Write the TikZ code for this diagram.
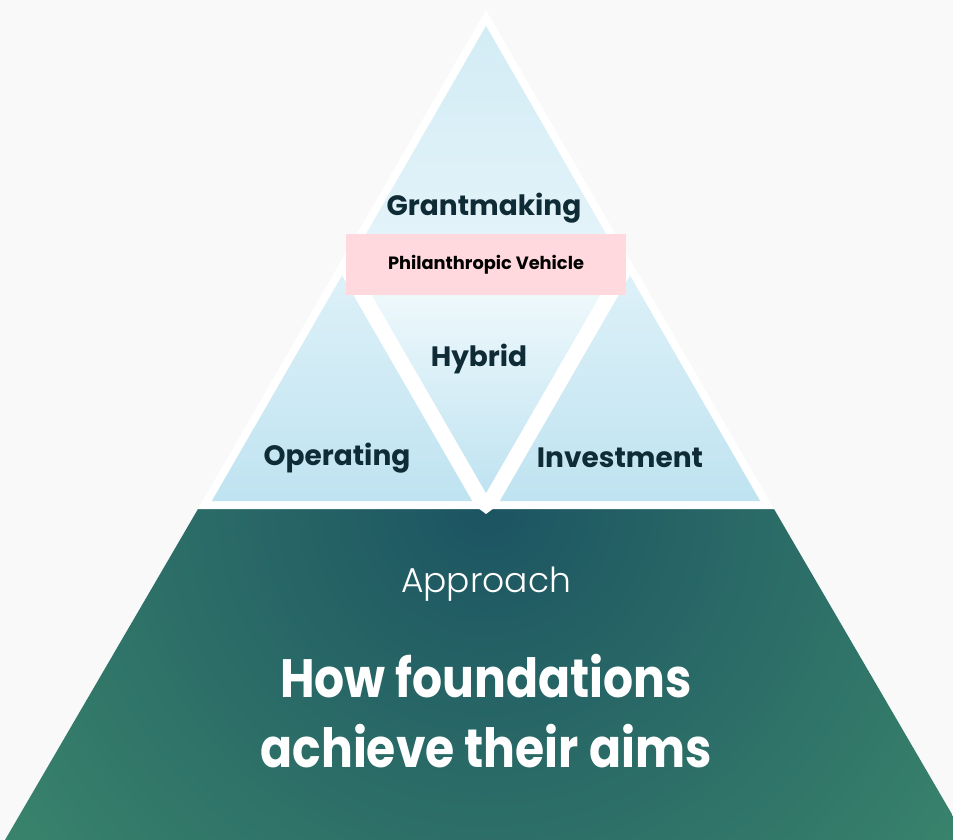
\documentclass[tikz,border=0pt]{standalone}
\usepackage{fontspec}
\setmainfont{Poppins}
\newfontfamily\lightfont{Poppins Light}
\newfontfamily\aimfont{Poppins}[FakeStretch=0.875]
\usetikzlibrary{calc}
\definecolor{pageGrey}{HTML}{F9F9F9}
\definecolor{labelNavy}{HTML}{0F2B36}
\definecolor{vehiclePink}{HTML}{FFD9DD}
\definecolor{tealDark}{HTML}{1C5462}
\definecolor{tealGreen}{HTML}{42926F}
\definecolor{skyDeep}{HTML}{BFE3F1}
\definecolor{skyMid}{HTML}{D3ECF5}
\definecolor{skyPale}{HTML}{F4FBFD}
\tikzset{
    tierText/.style={font=\bfseries\fontsize{28}{30}\selectfont, text=labelNavy},
    vehicleBox/.style={fill=vehiclePink, minimum width=280pt, minimum height=61pt, inner sep=0pt,
        font=\bfseries\fontsize{17.8}{20}\selectfont, text=black},
    approachText/.style={font=\lightfont\fontsize{34.5}{36}\selectfont, text=white},
    aimText/.style={font=\aimfont\bfseries\fontsize{54}{70}\selectfont, text=white, align=center},
    topTri/.style={top color=skyMid, bottom color=skyPale!50!skyMid},
    sideTri/.style={top color=skyMid!70!skyPale, bottom color=skyDeep},
    hybridTri/.style={top color=skyPale, bottom color=skyDeep}
}
\def\shrink{0.904}

\begin{document}
\begin{tikzpicture}[x=1pt,y=-1pt]
    % Fix the canvas to the reference size
    \clip (0,0) rectangle (953,840);
    \fill[pageGrey] (0,0) rectangle (953,840);

    % Corners of the big triangle and the midpoints of its sides
    \coordinate (apex) at (486,10);
    \coordinate (baseL) at (198,509);
    \coordinate (baseR) at (774,509);
    \coordinate (midL) at (342,259.5);
    \coordinate (midR) at (630,259.5);
    \coordinate (midB) at (486,509);

    % Centres of the four small triangles
    \coordinate (cTop) at (486,176.33);
    \coordinate (cLeft) at (342,425.83);
    \coordinate (cRight) at (630,425.83);
    \coordinate (cHybrid) at (486,342.67);

    % Draw the teal base
    \begin{scope}
        \clip (baseL) -- (baseR) -- (967,840) -- (5,840) -- cycle;
        \shade[inner color=tealDark, outer color=tealGreen] (486,505) circle (760pt);
    \end{scope}

    % White ground under the upper triangle
    \fill[white] (apex) -- (baseR) -- (baseL) -- cycle;
    \fill[white] (478,508) -- (494,508) -- (486,514) -- cycle;

    % Draw the four small triangles, each pulled in toward its centre
    \path[topTri] ($(cTop)!\shrink!(apex)$) -- ($(cTop)!\shrink!(midR)$) -- ($(cTop)!\shrink!(midL)$) -- cycle;
    \path[sideTri] ($(cLeft)!\shrink!(midL)$) -- ($(cLeft)!\shrink!(midB)$) -- ($(cLeft)!\shrink!(baseL)$) -- cycle;
    \path[sideTri] ($(cRight)!\shrink!(midR)$) -- ($(cRight)!\shrink!(baseR)$) -- ($(cRight)!\shrink!(midB)$) -- cycle;
    \path[hybridTri] ($(cHybrid)!\shrink!(midL)$) -- ($(cHybrid)!\shrink!(midR)$) -- ($(cHybrid)!\shrink!(midB)$) -- cycle;

    % Labels
    \node[tierText] (grant) at (484,208) {Grantmaking};
    \node[vehicleBox] (vehicle) at (486,264.5) {Philanthropic Vehicle};
    \node[tierText] (hybrid) at (479,359) {Hybrid};
    \node[tierText] (operating) at (337,458) {Operating};
    \node[tierText] (investment) at (620,458) {Investment};
    \node[approachText] (approach) at (486,584) {Approach};
    \node[aimText] (aims) at (486,711) {How foundations\\achieve their aims};
\end{tikzpicture}
\end{document}
